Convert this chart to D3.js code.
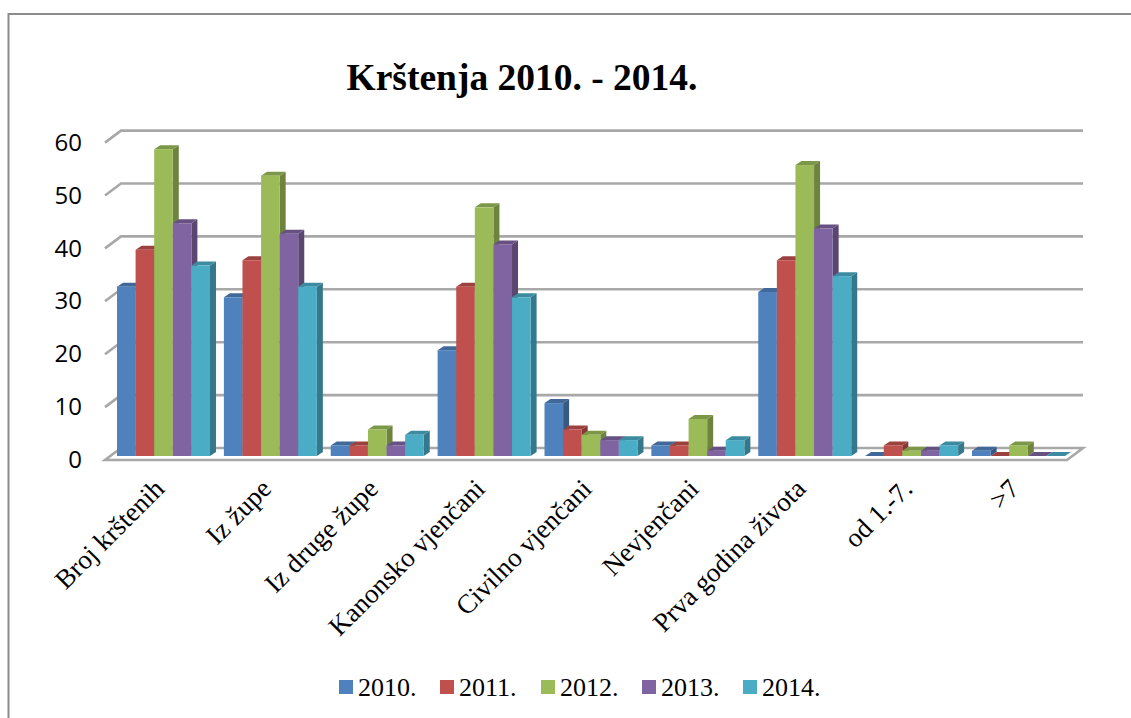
<!DOCTYPE html>
<html><head><meta charset="utf-8">
<script src="https://cdn.jsdelivr.net/npm/d3@7"></script>
<style>html,body{margin:0;padding:0;background:#fff;overflow:hidden}svg{display:block}</style>
</head><body><svg id="c" width="1131" height="718"></svg>
<script>
const categories = ["Broj krštenih","Iz župe","Iz druge župe","Kanonsko vjenčani","Civilno vjenčani","Nevjenčani","Prva godina života","od 1.-7.",">7"];
const years = ["2010.","2011.","2012.","2013.","2014."];
const s2010 = [32,30,2,20,10,2,31,0,1];
const s2011 = [39,37,2,32,5,2,37,2,0];
const s2012 = [58,53,5,47,4,7,55,1,2];
const s2013 = [44,42,2,40,3,1,43,1,0];
const s2014 = [36,32,4,30,3,3,34,2,0];
const seriesValues = [s2010,s2011,s2012,s2013,s2014];
const colors = ["#4f81bd","#c0504d","#9bbb59","#8064a2","#4bacc6"];
const yTicks = [0,10,20,30,40,50,60];
const titleText = "Krštenja 2010. - 2014.";

const svg = d3.select("#c");
const serif = "'Liberation Serif','Times New Roman',serif";
const grid = "#a8a8a8";
const depthX = 16, depthY = 12;     // floor depth
const barDX = 6, barDY = 4, inset = 4;

const y = d3.scaleLinear().domain([0,60]).range([460,142.6]);
const x0 = d3.scaleBand().domain(categories).range([117,1065]).paddingInner(0.13).paddingOuter(0);
const x1 = d3.scaleBand().domain(years).range([0,x0.bandwidth()]);

// page frame
svg.append("path").attr("d","M8.5,718V14H1131").attr("fill","none").attr("stroke","#8c8c8c").attr("stroke-width",2);

// title
svg.append("text").attr("x",522).attr("y",90).attr("text-anchor","middle")
  .style("font",`bold 37.5px ${serif}`).attr("fill","#000").text(titleText);

const plotL = 105, plotR = 1067;
// gridlines: front tick + back line
const gridG = svg.append("g");
yTicks.filter(t=>t>0).forEach(t=>{
  gridG.append("path")
    .attr("d",`M${plotL},${y(t)}L${plotL+depthX},${y(t)-depthY}H${plotR+depthX}`)
    .attr("fill","none").attr("stroke",grid).attr("stroke-width",2.6);
});
// floor
gridG.append("path")
  .attr("d",`M${plotL},${y(0)}H${plotR}L${plotR+depthX},${y(0)-depthY}H${plotL+depthX}Z`)
  .attr("fill","#fff").attr("stroke",grid).attr("stroke-width",2.6);

// y axis (labels only)
const yAxis = d3.axisLeft(y).tickValues(yTicks).tickSize(0).tickPadding(0);
const ya = svg.append("g").attr("transform","translate(82,0)").call(yAxis);
ya.select(".domain").remove();
ya.selectAll("text").style("font","24px 'Open Sans','Noto Sans',sans-serif").attr("fill","#000");

// bars
const barsG = svg.append("g");
categories.forEach((c,ci)=>{
  const g = barsG.append("g").attr("transform",`translate(${x0(c)},0)`);
  years.forEach((yr,si)=>{
    const v = seriesValues[si][ci];
    const bx = x1(yr), w = x1.bandwidth();
    const top = y(v)-inset, base = y(0)-inset;
    const col = d3.color(colors[si]);
    g.append("path").attr("fill",col.darker(1).formatHex())
      .attr("d",`M${bx+w},${top}L${bx+w+barDX},${top-barDY}V${base-barDY}L${bx+w},${base}Z`);
    g.append("path").attr("fill",col.darker(0.6).formatHex())
      .attr("d",`M${bx},${top}L${bx+barDX},${top-barDY}H${bx+w+barDX}L${bx+w},${top}Z`);
    g.append("rect").attr("x",bx).attr("y",top).attr("width",w).attr("height",Math.max(0,base-top)).attr("fill",colors[si]);
  });
});

// category labels
const xa = svg.append("g");
categories.forEach(c=>{
  const cx = x0(c)+x0.bandwidth()/2;
  xa.append("text").attr("text-anchor","end")
    .attr("transform",`translate(${cx-11},${477}) rotate(-45)`)
    .attr("dy","0.7em")
    .style("font",`27px ${serif}`).attr("fill","#000").text(c);
});

// legend
const legendX = d3.scalePoint().domain(years).range([339,743]);
const lg = svg.append("g");
years.forEach((yr,i)=>{
  const lx = legendX(yr);
  lg.append("rect").attr("x",lx).attr("y",680).attr("width",14).attr("height",14).attr("fill",colors[i]);
  lg.append("text").attr("x",lx+19).attr("y",696).style("font",`26px ${serif}`).attr("fill","#000").text(yr);
});
</script></body></html>
